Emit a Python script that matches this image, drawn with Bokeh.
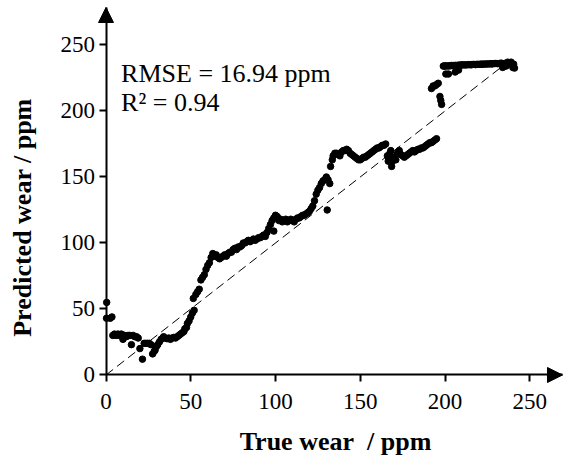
import math
from bokeh.plotting import figure
from bokeh.models import Range1d, Label, Arrow, NormalHead, FixedTicker
from bokeh.embed import file_html
from bokeh.resources import INLINE

# ---- data ----
true_wear = [
    0.4, 0.3, 2.5, 3.5, 4, 5, 6, 7, 8, 9, 10, 10.5, 11, 12, 13, 14, 15, 16, 17, 18, 19, 20,
    21.5, 22.5, 23.5, 24.5, 25.5, 26.5, 27.5, 28.5, 29, 30, 30.5, 31.5, 32.5, 33.5, 34, 35, 36, 37,
    38, 39, 40, 41, 42, 43, 44, 45, 46, 46.5, 47.5, 48, 49, 50, 51, 52,
    51.5, 53, 54, 55, 56, 57, 58, 59, 60, 61, 62, 63, 64, 65, 66, 67, 68, 69, 70, 71, 72, 73, 74, 75,
    76, 77, 78, 79, 80, 81, 82, 83, 84, 85, 86, 87, 88, 89, 90, 91, 92, 93, 94, 95, 96, 97, 98, 99,
    100, 101, 99,
    102, 103, 104, 105, 106, 107, 108, 109, 110, 111, 112, 113, 114, 115, 116, 117, 118, 119, 120,
    121, 122, 123, 124, 125, 126, 127, 128, 129, 130, 131, 132, 130.5,
    132.5, 133.5, 134, 135, 136, 137, 138, 139, 140, 141, 142, 143, 144, 145, 146, 147, 148, 149, 150,
    151, 152, 153, 154, 155, 156, 157, 158, 159, 160, 161, 162, 163, 164, 165,
    166, 166.5, 167, 167.5, 168, 168.5, 169, 170, 171, 172, 173, 174, 175, 176, 177, 178, 179, 180,
    181, 182, 183, 184, 185, 186, 187, 188, 189, 190, 191, 192, 193, 194, 195,
    192, 193, 194, 195, 196, 197, 197.5, 198, 200.5, 202, 206, 208,
    199, 200, 201, 202, 203, 204, 205, 206, 207, 208, 209, 210, 211, 212, 213, 214, 215, 216, 217,
    218, 219, 220, 221, 222, 223, 224, 225, 226, 227, 228, 229, 230, 231, 232, 233, 234, 235, 236,
    237, 238, 239, 240, 241, 240.5, 199.5, 203.5, 209.5, 215.5, 221.5, 227.5, 233.5,
]
predicted_wear = [
    55, 43, 43, 44, 30, 31, 30, 31, 30, 31, 27, 30, 30, 29, 30, 30, 23, 30, 29, 29, 28, 20,
    12, 24, 24, 24, 24, 23, 16, 18, 19, 22, 23, 25, 27, 28, 29, 28, 27.5, 28,
    27, 28, 28.5, 28, 29, 30, 31, 32, 33, 35, 36, 39, 41, 44, 47, 49,
    58, 61, 63, 65, 72, 74, 76, 80, 83, 85, 89, 92, 90, 91, 89, 88, 89, 90, 91, 90, 92, 93, 93, 95,
    96, 95, 97, 97, 98, 100, 100, 101, 102, 101, 102, 103, 102, 103, 104, 104, 105, 106, 105, 108, 111, 114, 117, 119,
    121, 120, 109,
    117, 118, 116, 117, 118, 116, 117, 118, 117, 116, 118, 119, 119, 120, 121, 121, 122, 123, 124,
    126, 128, 132, 137, 140, 142, 145, 147, 148, 150, 148, 145, 125,
    158, 163, 166, 168, 168, 167, 166, 169, 170, 170, 171, 170, 168, 167, 166, 165, 164, 163, 163,
    164, 165, 165, 166, 167, 168, 169, 170, 171, 172, 172, 173, 174, 174, 175,
    166, 162, 165, 168, 170, 158, 162, 165, 163, 168, 170, 167, 166, 165, 166, 167, 168, 169,
    170, 169, 170, 171, 171, 172, 172, 173, 174, 175, 176, 176, 177, 178, 179,
    217, 219, 219, 220, 221, 211, 208, 205, 228, 228, 229.5, 231,
    234, 234, 234.2, 234, 234.3, 234.5, 234.4, 234.6, 234.5, 234.8, 234.7, 234.9, 235, 234.8, 235, 235.1, 235, 235.2, 235.3,
    235.1, 235.4, 235.3, 235.5, 235.4, 235.6, 235.5, 235.7, 235.6, 235.8, 235.7, 235.9, 236, 235.8, 236, 236.2, 233, 236, 234,
    237, 236, 237, 233, 232.5, 235.5, 234.1, 234.4, 234.8, 235.1, 235.4, 235.7, 236.1,
]
ref_line = [0, 240]
ticks = [0, 50, 100, 150, 200, 250]
rmse_text = "RMSE = 16.94 ppm"
r2_text = "R² = 0.94"
x_title = "True wear\u00a0 / ppm"
y_title = "Predicted wear / ppm"

FONT = "Liberation Serif"
X_END = 269.3   # arrow tip of the x axis
Y_END = 278.4   # arrow tip of the y axis

p = figure(width=563, height=461, min_border=0,
           x_range=Range1d(-62.24, 269.9), y_range=Range1d(-65.53, 283.7),
           output_backend="svg", toolbar_location=None)
p.outline_line_color = None
p.xgrid.visible = False
p.ygrid.visible = False
p.background_fill_color = "white"
p.border_fill_color = "white"

for ax in (p.xaxis, p.yaxis):
    ax.fixed_location = 0
    ax.ticker = FixedTicker(ticks=ticks)
    ax.axis_line_width = 2
    ax.axis_line_color = "black"
    ax.major_tick_in = 0
    ax.major_tick_out = 7
    ax.major_tick_line_width = 2
    ax.major_tick_line_color = "black"
    ax.minor_tick_line_color = None
    ax.major_label_text_font = FONT
    ax.major_label_text_font_size = "23px"
    ax.major_label_text_color = "black"
p.xaxis.bounds = (0, X_END)
p.yaxis.bounds = (0, Y_END)
p.xaxis.major_label_standoff = 12
p.yaxis.major_label_standoff = 4

# reference line
p.line(ref_line, ref_line, line_dash="9 5", line_width=1, line_color="black")
# points
p.scatter(true_wear, predicted_wear, size=6.5, color="black")

# arrow heads
p.add_layout(Arrow(end=NormalHead(size=15, fill_color="black", line_color="black"),
                   x_start=X_END - 8, y_start=0, x_end=X_END, y_end=0, line_width=2))
p.add_layout(Arrow(end=NormalHead(size=15, fill_color="black", line_color="black"),
                   x_start=0, y_start=Y_END - 8, x_end=0, y_end=Y_END, line_width=2))

p.add_layout(Label(x=8.9, y=228.6, text=rmse_text, text_font=FONT, text_font_size="26px",
                   text_baseline="alphabetic", text_color="black"))
p.add_layout(Label(x=8.9, y=206.7, text=r2_text, text_font=FONT, text_font_size="26px",
                   text_baseline="alphabetic", text_color="black"))

p.add_layout(Label(x=135.4, y=-50.4, text=x_title, text_font=FONT, text_font_size="26px",
                   text_font_style="bold", text_align="center", text_baseline="middle",
                   text_color="black"))
p.add_layout(Label(x=-49.3, y=119.3, angle=math.pi / 2, text=y_title, text_font=FONT,
                   text_font_size="26px", text_font_style="bold", text_align="center",
                   text_baseline="middle", text_color="black"))

open("out.html", "w").write(file_html(p, INLINE))
